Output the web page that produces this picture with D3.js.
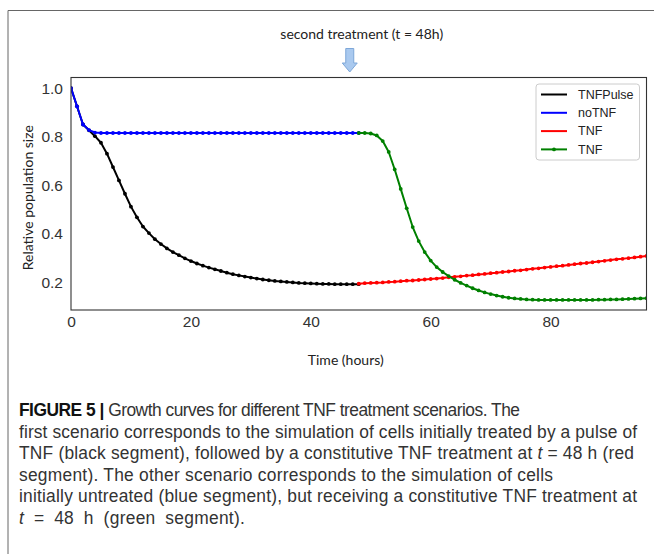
<!DOCTYPE html>
<html>
<head>
<meta charset="utf-8">
<script src="https://cdn.jsdelivr.net/npm/d3@7"></script>
<style>
  html, body { margin: 0; padding: 0; background: #fff; }
  svg { display: block; }
</style>
</head>
<body>
<svg id="chart" width="654" height="554"></svg>
<script>
// ---------------- DATA ----------------
const hoursFirst = d3.range(0, 49);   // 0 .. 48 h
const hoursSecond = d3.range(48, 97); // 48 .. 96 h

const tnfPulse = [1.0, 0.925, 0.85, 0.826, 0.802, 0.775, 0.73, 0.675, 0.62, 0.565,
  0.512, 0.468, 0.43, 0.403, 0.378, 0.358, 0.34, 0.325, 0.312, 0.299,
  0.288, 0.278, 0.269, 0.261, 0.254, 0.247, 0.24, 0.234, 0.229, 0.224,
  0.22, 0.216, 0.212, 0.209, 0.206, 0.204, 0.202, 0.2, 0.198, 0.197,
  0.196, 0.195, 0.194, 0.194, 0.193, 0.193, 0.193, 0.193, 0.193];

const noTNF = [1.0, 0.925, 0.85, 0.827, 0.817, 0.815, 0.815, 0.815, 0.815, 0.815,
  0.815, 0.815, 0.815, 0.815, 0.815, 0.815, 0.815, 0.815, 0.815, 0.815,
  0.815, 0.815, 0.815, 0.815, 0.815, 0.815, 0.815, 0.815, 0.815, 0.815,
  0.815, 0.815, 0.815, 0.815, 0.815, 0.815, 0.815, 0.815, 0.815, 0.815,
  0.815, 0.815, 0.815, 0.815, 0.815, 0.815, 0.815, 0.815, 0.815];

const tnfAfterPulse = [0.195, 0.197, 0.198, 0.199, 0.2, 0.202, 0.203, 0.205, 0.207, 0.208,
  0.21, 0.212, 0.214, 0.216, 0.218, 0.221, 0.223, 0.225, 0.228, 0.23,
  0.233, 0.235, 0.238, 0.24, 0.243, 0.245, 0.248, 0.25, 0.253, 0.256,
  0.258, 0.261, 0.264, 0.267, 0.269, 0.272, 0.275, 0.278, 0.28, 0.283,
  0.286, 0.289, 0.292, 0.295, 0.297, 0.3, 0.303, 0.306, 0.309];

const tnfAfterNone = [0.815, 0.815, 0.813, 0.805, 0.782, 0.737, 0.665, 0.585, 0.505, 0.428,
  0.37, 0.325, 0.29, 0.263, 0.243, 0.226, 0.211, 0.198, 0.187, 0.176,
  0.167, 0.159, 0.152, 0.146, 0.141, 0.137, 0.134, 0.132, 0.13, 0.129,
  0.128, 0.128, 0.128, 0.128, 0.128, 0.128, 0.128, 0.128, 0.128, 0.128,
  0.129, 0.129, 0.13, 0.13, 0.131, 0.132, 0.133, 0.134, 0.135];

const xTicks = [0, 20, 40, 60, 80];
const yTicks = [0.2, 0.4, 0.6, 0.8, 1.0];
const legendLabels = ["TNFPulse", "noTNF", "TNF", "TNF"];
const seriesColors = ["#000000", "#0000ff", "#ff0000", "#008000"];
const treatmentHour = 46.5;

const captionLines = [
  [{t: "FIGURE 5 | ", b: true}, {t: "Growth curves for different TNF treatment scenarios. The"}],
  [{t: "first scenario corresponds to the simulation of cells initially treated by a pulse of"}],
  [{t: "TNF (black segment), followed by a constitutive TNF treatment at "}, {t: "t", i: true}, {t: " = 48 h (red"}],
  [{t: "segment). The other scenario corresponds to the simulation of cells"}],
  [{t: "initially untreated (blue segment), but receiving a constitutive TNF treatment at"}],
  [{t: "t", i: true}, {t: " = 48 h (green segment)."}]
];
const captionLineEnds = [520, 637, 634, 553, 637, null];

// ---------------- DRAW ----------------
const svg = d3.select("#chart");
svg.append("rect").attr("width", 654).attr("height", 554).attr("fill", "#fff");

// outer figure frame (top + left edges visible)
svg.append("path").attr("d", "M8,600 L8,10.5 L700,10.5")
  .attr("fill", "none").attr("stroke", "#666").attr("stroke-width", 1);

const plot = {left: 71, right: 646.5, top: 77.5, bottom: 310};
const x = d3.scaleLinear().domain([0, 96]).range([plot.left, plot.right]);
const y = d3.scaleLinear().domain([0.0865, 1.0435]).range([plot.bottom, plot.top]);

// tick labels
const xAxis = d3.axisBottom(x).tickValues(xTicks).tickFormat(d3.format("d")).tickSize(0).tickPadding(6);
const gx = svg.append("g").attr("transform", `translate(0,${plot.bottom})`).call(xAxis);
gx.select(".domain").remove();
gx.selectAll("text").attr("font-family", "Liberation Sans, Arial, sans-serif")
  .attr("font-size", 15.5).attr("fill", "#333");

const yAxis = d3.axisLeft(y).tickValues(yTicks).tickFormat(d3.format(".1f")).tickSize(0).tickPadding(8);
const gy = svg.append("g").attr("transform", `translate(${plot.left},0)`).call(yAxis);
gy.select(".domain").remove();
gy.selectAll("text").attr("font-family", "Liberation Sans, Arial, sans-serif")
  .attr("font-size", 15.5).attr("fill", "#333");

// series
const series = [
  {xs: hoursFirst, ys: tnfPulse, color: seriesColors[0]},
  {xs: hoursFirst, ys: noTNF, color: seriesColors[1]},
  {xs: hoursSecond, ys: tnfAfterPulse, color: seriesColors[2]},
  {xs: hoursSecond, ys: tnfAfterNone, color: seriesColors[3]}
];
const line = d3.line().x(d => x(d[0])).y(d => y(d[1]));
svg.append("clipPath").attr("id", "clip").append("rect")
  .attr("x", plot.left).attr("y", plot.top)
  .attr("width", plot.right - plot.left).attr("height", plot.bottom - plot.top);
const gSeries = svg.append("g").attr("clip-path", "url(#clip)");
series.forEach(s => {
  const pts = s.xs.map((h, i) => [h, s.ys[i]]);
  gSeries.append("path").datum(pts).attr("d", line)
    .attr("fill", "none").attr("stroke", s.color).attr("stroke-width", 2)
    .attr("stroke-linejoin", "round");
  gSeries.selectAll(null).data(pts).enter().append("circle")
    .attr("cx", d => x(d[0])).attr("cy", d => y(d[1])).attr("r", 1.9)
    .attr("fill", s.color);
});

// plot frame
svg.append("rect").attr("x", plot.left).attr("y", plot.top)
  .attr("width", plot.right - plot.left).attr("height", plot.bottom - plot.top)
  .attr("fill", "none").attr("stroke", "#333").attr("stroke-width", 1.1);

// legend
const lg = svg.append("g").attr("transform", "translate(536,84)");
lg.append("rect").attr("x", 0).attr("y", 0).attr("width", 103.5).attr("height", 76)
  .attr("rx", 3).attr("fill", "#fff").attr("stroke", "#cccccc").attr("stroke-width", 1);
legendLabels.forEach((lab, i) => {
  const yy = 10.5 + i * 18.3;
  lg.append("line").attr("x1", 5).attr("x2", 31).attr("y1", yy).attr("y2", yy)
    .attr("stroke", seriesColors[i]).attr("stroke-width", 2);
  if (i === 3) {
    lg.append("circle").attr("cx", 18).attr("cy", yy).attr("r", 1.9).attr("fill", seriesColors[i]);
  }
  lg.append("text").attr("x", 42).attr("y", yy).attr("dy", "0.35em")
    .attr("font-family", "Liberation Sans, Arial, sans-serif").attr("font-size", 12.5)
    .attr("fill", "#222").text(lab);
});

// axis titles
svg.append("text").attr("x", (plot.left + plot.right) / 2 - 13).attr("y", 360).attr("dy", "0.35em")
  .attr("text-anchor", "middle").attr("font-family", "Lato, sans-serif").attr("font-size", 14)
  .attr("fill", "#222").text("Time (hours)");
svg.append("text").attr("transform", `translate(28,${(plot.top + plot.bottom) / 2 + 4}) rotate(-90)`)
  .attr("dy", "0.35em").attr("text-anchor", "middle").attr("font-family", "Lato, sans-serif")
  .attr("font-size", 14).attr("fill", "#222").text("Relative population size");

// annotation: second treatment
svg.append("text").attr("x", (plot.left + plot.right) / 2 + 3).attr("y", 34).attr("dy", "0.35em")
  .attr("text-anchor", "middle").attr("font-family", "Lato, sans-serif").attr("font-size", 14)
  .attr("fill", "#222").text("second treatment (t = 48h)");
const ax = x(treatmentHour);
const arrow = d3.path();
arrow.moveTo(ax - 4, 48.5); arrow.lineTo(ax + 4, 48.5); arrow.lineTo(ax + 4, 63);
arrow.lineTo(ax + 7.5, 63); arrow.lineTo(ax, 72); arrow.lineTo(ax - 7.5, 63);
arrow.lineTo(ax - 4, 63); arrow.closePath();
svg.append("path").attr("d", arrow.toString()).attr("fill", "#a9c9ef")
  .attr("stroke", "#7ea7d8").attr("stroke-width", 1);

// caption (condensed look: horizontally squeezed)
const capScale = 0.94, capLeft = 19;
const cap = svg.append("g").attr("transform", `translate(${capLeft},0) scale(${capScale},1)`);
captionLines.forEach((ln, i) => {
  const t = cap.append("text").attr("x", 0).attr("y", 416 + i * 21.6)
    .attr("font-family", "Liberation Sans, Arial, sans-serif")
    .attr("font-size", 18.5).attr("fill", "#333");
  if (captionLineEnds[i] !== null) {
    t.attr("textLength", (captionLineEnds[i] - capLeft) / capScale).attr("lengthAdjust", "spacing");
  } else {
    t.attr("word-spacing", 5).attr("letter-spacing", 0.3);
  }
  ln.forEach(seg => {
    const ts = t.append("tspan").text(seg.t);
    if (seg.b) ts.attr("font-weight", "bold").attr("fill", "#111");
    if (seg.i) ts.attr("font-style", "italic");
  });
});
</script>
</body>
</html>
